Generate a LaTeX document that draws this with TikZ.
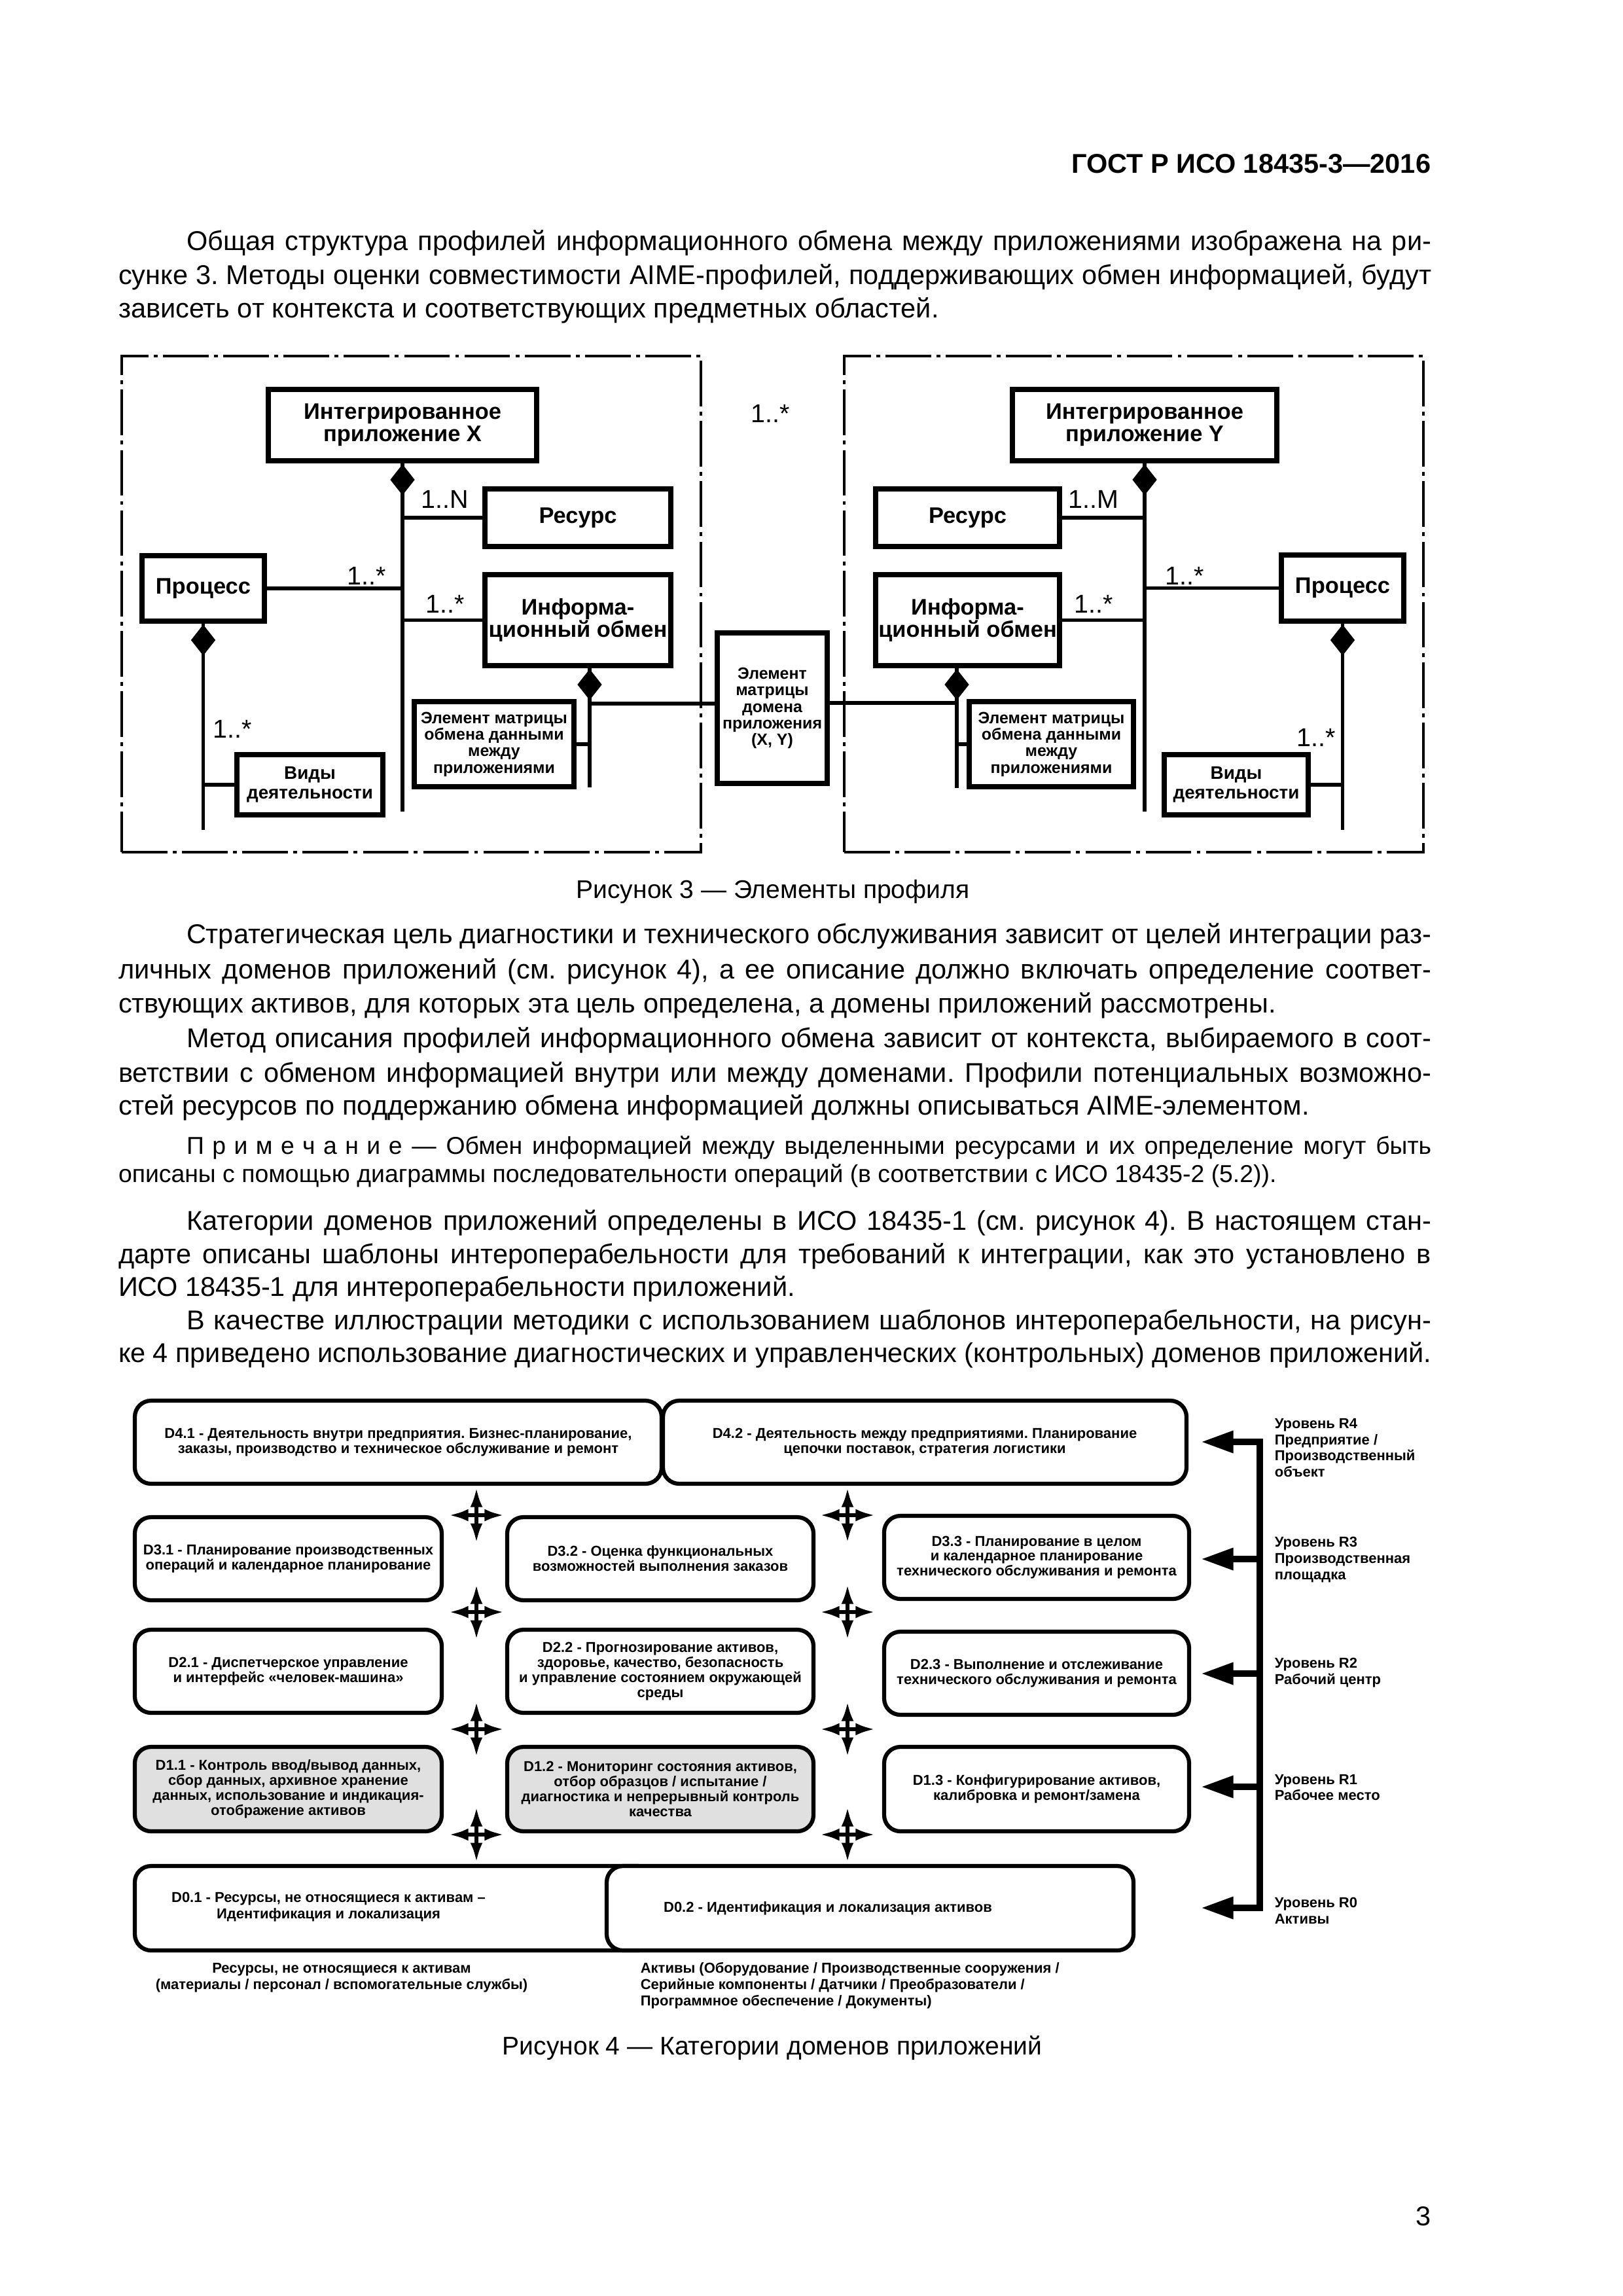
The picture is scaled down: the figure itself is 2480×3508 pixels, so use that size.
\documentclass[tikz,border=0pt]{standalone}
\usepackage{fontspec}
\setmainfont{Liberation Sans}
\usetikzlibrary{arrows.meta,shapes.geometric}
\newlength\pxl
\setlength\pxl{0.0846774mm}
\newcommand\primword{П\kern3pt р\kern3pt и\kern3pt м\kern3pt е\kern3pt ч\kern3pt а\kern3pt н\kern3pt и\kern3pt е}
\frenchspacing
\begin{document}
\begin{tikzpicture}[x=0.0846774mm,y=-0.0846774mm,
  bodyl/.style={anchor=base west, inner sep=0pt, outer sep=0pt, font=\fontsize{10}{12}\selectfont},
  notel/.style={anchor=base west, inner sep=0pt, outer sep=0pt, font=\fontsize{9}{11}\selectfont},
  capt/.style={anchor=base, inner sep=0pt, font=\fontsize{9.4}{11}\selectfont},
  umlbox/.style={draw, line width=2pt, inner sep=0pt, align=center, fill=white},
  bigtxt/.style={font=\fontsize{8.3}{8.2}\selectfont\bfseries},
  smtxt/.style={font=\fontsize{6}{6.1}\selectfont\bfseries},
  acttxt/.style={font=\fontsize{6.7}{7.2}\selectfont\bfseries},
  multlab/.style={inner sep=0pt, font=\fontsize{9.5}{11}\selectfont},
  conn/.style={line width=1.3pt},
  dia/.style={diamond, fill=black, draw=none, inner sep=0pt, minimum width=38\pxl, minimum height=48\pxl, anchor=north},
  dframe/.style={draw, line width=1.1pt, inner sep=0pt, dash pattern=on 5.9mm off 0.7mm on 0.5mm off 0.7mm},
  dbox/.style={draw, line width=1.5pt, rounded corners=2.1mm, fill=white, inner sep=0pt, align=center, font=\fontsize{5.3}{5.5}\selectfont\bfseries},
  dgray/.style={dbox, fill=black!12},
  lvltxt/.style={inner sep=0pt, align=left, font=\fontsize{5.3}{6}\selectfont\bfseries},
  xarr/.style={line width=1.3pt, {Latex[length=2.5mm,width=1.6mm]}-{Latex[length=2.5mm,width=1.6mm]}},
  lvl/.style={line width=2.4pt, line join=miter}
]
\fill[white] (0,0) rectangle (2480,3508);
\useasboundingbox (0,0) rectangle (2480,3508);

% ---------- header ----------
\node[anchor=base east, inner sep=0pt, font=\fontsize{10}{12}\selectfont\bfseries] (hdr) at (2187,264) {ГОСТ Р ИСО 18435-3—2016};

% ---------- paragraph 1 ----------
\node[bodyl] (p1a) at (285,382) {\makebox[1902\pxl][s]{Общая структура профилей информационного обмена между приложениями изображена на ри-}};
\node[bodyl] (p1b) at (181,434) {\makebox[2006\pxl][s]{сунке 3. Методы оценки совместимости AIME-профилей, поддерживающих обмен информацией, будут}};
\node[bodyl] (p1c) at (181,485) {зависеть от контекста и соответствующих предметных областей.};

% ---------- figure 3 ----------
\node[dframe, minimum width=885\pxl, minimum height=758\pxl] (frX) at (628.5,923) {};
\node[dframe, minimum width=885\pxl, minimum height=758\pxl] (frY) at (1732.5,923) {};

\node[umlbox,bigtxt,minimum width=410\pxl,minimum height=109\pxl] (intX) at (615,649.5) {Интегрированное\\приложение X};
\node[umlbox,bigtxt,minimum width=284\pxl,minimum height=88\pxl] (resX) at (883,791) {Ресурс};
\node[umlbox,bigtxt,minimum width=187\pxl,minimum height=100\pxl] (procX) at (310.5,899) {Процесс};
\node[umlbox,bigtxt,minimum width=284\pxl,minimum height=139\pxl] (infoX) at (883,947.5) {Информа-\\ционный обмен};
\node[umlbox,acttxt,minimum width=223\pxl,minimum height=92\pxl] (actX) at (473.5,1199) {Виды\\деятельности};
\node[umlbox,smtxt,minimum width=244\pxl,minimum height=130\pxl] (elemX) at (755,1137) {Элемент матрицы\\обмена данными\\между\\приложениями};

\node[umlbox,smtxt,minimum width=168\pxl,minimum height=230\pxl] (mid) at (1180,1082) {Элемент\\матрицы\\домена\\приложения\\(X, Y)};

\node[umlbox,bigtxt,minimum width=404\pxl,minimum height=109\pxl] (intY) at (1749,649.5) {Интегрированное\\приложение Y};
\node[umlbox,bigtxt,minimum width=281\pxl,minimum height=88\pxl] (resY) at (1478.5,791) {Ресурс};
\node[umlbox,bigtxt,minimum width=187\pxl,minimum height=101\pxl] (procY) at (2051.5,898.5) {Процесс};
\node[umlbox,bigtxt,minimum width=281\pxl,minimum height=139\pxl] (infoY) at (1478.5,947.5) {Информа-\\ционный обмен};
\node[umlbox,acttxt,minimum width=220\pxl,minimum height=92\pxl] (actY) at (1889,1199) {Виды\\деятельности};
\node[umlbox,smtxt,minimum width=251\pxl,minimum height=130\pxl] (elemY) at (1606.5,1137) {Элемент матрицы\\обмена данными\\между\\приложениями};

% spines
\coordinate (spX) at (615,1240);
\coordinate (spY) at (1749,1240);
\coordinate (spPX) at (310.5,1268);
\coordinate (spPY) at (2051.5,1268);
\coordinate (spIX) at (901,1203);
\coordinate (spIY) at (1462,1204);
\coordinate (jX) at (901,1075);
\coordinate (jY) at (1462,1074);

\draw[conn] (intX.south) -- (spX);
\draw[conn] (intY.south) -- (spY);
\draw[conn] (resX.west) -- (resX.west -| spX);
\draw[conn] (procX.east) -- (procX.east -| spX);
\draw[conn] (infoX.west) -- (infoX.west -| spX);
\draw[conn] (resY.east) -- (resY.east -| spY);
\draw[conn] (procY.west) -- (procY.west -| spY);
\draw[conn] (infoY.east) -- (infoY.east -| spY);

\draw[conn] (procX.south) -- (spPX);
\draw[conn] (actX.west) -- (actX.west -| spPX);
\draw[conn] (procY.south) -- (spPY);
\draw[conn] (actY.east) -- (actY.east -| spPY);

\draw[conn] ([xshift=18\pxl]infoX.south) -- (spIX);
\draw[conn] (elemX.east) -- (elemX.east -| spIX);
\draw[conn] (jX) -- (jX -| mid.west);
\draw[conn] ([xshift=-16.5\pxl]infoY.south) -- (spIY);
\draw[conn] (elemY.west) -- (elemY.west -| spIY);
\draw[conn] (jY) -- (jY -| mid.east);

\node[dia] (dIntX) at (intX.south) {};
\node[dia] (dIntY) at (intY.south) {};
\node[dia] (dProcX) at (procX.south) {};
\node[dia] (dProcY) at (procY.south) {};
\node[dia] (dInfoX) at ([xshift=18\pxl]infoX.south) {};
\node[dia] (dInfoY) at ([xshift=-16.5\pxl]infoY.south) {};

\node[multlab] (mN) at (680,763) {1..N};
\node[multlab] (mPX) at (560,880) {1..*};
\node[multlab] (mIX) at (680,923) {1..*};
\node[multlab] (mAX) at (355,1114) {1..*};
\node[multlab] (mM) at (1671,763) {1..M};
\node[multlab] (mPY) at (1810,880) {1..*};
\node[multlab] (mIY) at (1671,923) {1..*};
\node[multlab] (mAY) at (2011,1127) {1..*};
\node[multlab] (mXY) at (1177,632) {1..*};

\node[capt] (cap3) at (1181,1372) {Рисунок 3 — Элементы профиля};

% ---------- paragraphs 2,3 ----------
\node[bodyl] (p2a) at (285,1441) {\makebox[1902\pxl][s]{Стратегическая цель диагностики и технического обслуживания зависит от целей интеграции раз-}};
\node[bodyl] (p2b) at (181,1495) {\makebox[2006\pxl][s]{личных доменов приложений (см. рисунок 4), а ее описание должно включать определение соответ-}};
\node[bodyl] (p2c) at (181,1547) {ствующих активов, для которых эта цель определена, а домены приложений рассмотрены.};
\node[bodyl] (p3a) at (285,1600) {\makebox[1902\pxl][s]{Метод описания профилей информационного обмена зависит от контекста, выбираемого в соот-}};
\node[bodyl] (p3b) at (181,1653) {\makebox[2006\pxl][s]{ветствии с обменом информацией внутри или между доменами. Профили потенциальных возможно-}};
\node[bodyl] (p3c) at (181,1703) {стей ресурсов по поддержанию обмена информацией должны описываться AIME-элементом.};

\node[notel] (n1) at (285,1763) {\makebox[1902\pxl][s]{\primword{} — Обмен информацией между выделенными ресурсами и их определение могут быть}};
\node[notel] (n2) at (181,1806) {описаны с помощью диаграммы последовательности операций (в соответствии с ИСО 18435-2 (5.2)).};

\node[bodyl] (p4a) at (285,1879) {\makebox[1902\pxl][s]{Категории доменов приложений определены в ИСО 18435-1 (см. рисунок 4). В настоящем стан-}};
\node[bodyl] (p4b) at (181,1930) {\makebox[2006\pxl][s]{дарте описаны шаблоны интероперабельности для требований к интеграции, как это установлено в}};
\node[bodyl] (p4c) at (181,1980) {ИСО 18435-1 для интероперабельности приложений.};
\node[bodyl] (p5a) at (285,2031) {\makebox[1902\pxl][s]{В качестве иллюстрации методики с использованием шаблонов интероперабельности, на рисун-}};
\node[bodyl] (p5b) at (181,2081) {\makebox[2006\pxl][s]{ке 4 приведено использование диагностических и управленческих (контрольных) доменов приложений.}};

% ---------- figure 4 ----------
\node[dbox,minimum width=805\pxl,minimum height=127\pxl] (d41) at (608.5,2203.5) {D4.1 - Деятельность внутри предприятия. Бизнес-планирование,\\заказы, производство и техническое обслуживание и ремонт};
\node[dbox,minimum width=800\pxl,minimum height=127\pxl] (d42) at (1413,2203.5) {D4.2 - Деятельность между предприятиями. Планирование\\цепочки поставок, стратегия логистики};
\node[dbox,minimum width=469\pxl,minimum height=127\pxl] (d31) at (440.5,2381.5) {D3.1 - Планирование производственных\\операций и календарное планирование};
\node[dbox,minimum width=468\pxl,minimum height=127\pxl] (d32) at (1009,2381.5) {D3.2 - Оценка функциональных\\возможностей выполнения заказов};
\node[dbox,minimum width=466\pxl,minimum height=127\pxl] (d33) at (1584,2379.5) {D3.3 - Планирование в целом\\и календарное планирование\\технического обслуживания и ремонта};
\node[dbox,minimum width=469\pxl,minimum height=127\pxl] (d21) at (440.5,2553.5) {D2.1 - Диспетчерское управление\\и интерфейс «человек-машина»};
\node[dbox,minimum width=468\pxl,minimum height=127\pxl] (d22) at (1009,2553.5) {D2.2 - Прогнозирование активов,\\здоровье, качество, безопасность\\и управление состоянием окружающей\\среды};
\node[dbox,minimum width=466\pxl,minimum height=127\pxl] (d23) at (1584,2556.5) {D2.3 - Выполнение и отслеживание\\технического обслуживания и ремонта};
\node[dgray,minimum width=469\pxl,minimum height=129\pxl] (d11) at (440.5,2733.5) {D1.1 - Контроль ввод/вывод данных,\\сбор данных, архивное хранение\\данных, использование и индикация-\\отображение активов};
\node[dgray,minimum width=468\pxl,minimum height=129\pxl] (d12) at (1009,2733.5) {D1.2 - Мониторинг состояния активов,\\отбор образцов / испытание /\\диагностика и непрерывный контроль\\качества};
\node[dbox,minimum width=466\pxl,minimum height=129\pxl] (d13) at (1584,2733.5) {D1.3 - Конфигурирование активов,\\калибровка и ремонт/замена};
\node[dbox,minimum width=794\pxl,minimum height=129\pxl] (d01) at (603,2915.5) {};
\node[dbox,minimum width=805\pxl,minimum height=129\pxl] (d02) at (1329.5,2915.5) {};
\node[lvltxt, align=center] (d01t) at (502,2914) {D0.1 - Ресурсы, не относящиеся к активам –\\Идентификация и локализация};
\node[lvltxt, align=center] (d02t) at (1265,2916) {D0.2 - Идентификация и локализация активов};

% cross arrows
\foreach \n/\x/\y in {L1/728/2315, L2/728/2463, L3/728/2642, L4/728/2803, R1/1295/2315, R2/1295/2463, R3/1295/2642, R4/1295/2803}{
  \coordinate (c\n) at (\x,\y);
  \draw[xarr] ([yshift=42\pxl]c\n) -- ([yshift=-42\pxl]c\n);
  \draw[xarr] ([xshift=-42\pxl]c\n) -- ([xshift=42\pxl]c\n);
}

% level arrows
\coordinate (s4) at (1925,2203);
\coordinate (s3) at (1925,2382);
\coordinate (s2) at (1925,2557);
\coordinate (s1) at (1925,2730);
\coordinate (s0) at (1925,2915);
\coordinate (t4) at (1835,2203);
\coordinate (t3) at (1835,2382);
\coordinate (t2) at (1835,2557);
\coordinate (t1) at (1835,2730);
\coordinate (t0) at (1835,2915);
\draw[lvl, {Triangle[length=4.2mm,width=2.7mm]}-{Triangle[length=4.2mm,width=2.7mm]}] (t4) -- (s4) -- (s0) -- (t0);
\draw[lvl, -{Triangle[length=4.2mm,width=2.7mm]}] (s3) -- (t3);
\draw[lvl, -{Triangle[length=4.2mm,width=2.7mm]}] (s2) -- (t2);
\draw[lvl, -{Triangle[length=4.2mm,width=2.7mm]}] (s1) -- (t1);

\node[lvltxt, anchor=west] (l4) at (1947,2212) {Уровень R4\\Предприятие /\\Производственный\\объект};
\node[lvltxt, anchor=west] (l3) at (1947,2383) {Уровень R3\\Производственная\\площадка};
\node[lvltxt, anchor=west] (l2) at (1947,2556) {Уровень R2\\Рабочий центр};
\node[lvltxt, anchor=west] (l1) at (1947,2731) {Уровень R1\\Рабочее место};
\node[lvltxt, anchor=west] (l0) at (1947,2919) {Уровень R0\\Активы};

\node[lvltxt, align=center] (bl) at (522,3022) {Ресурсы, не относящиеся к активам\\(материалы / персонал / вспомогательные службы)};
\node[lvltxt, anchor=west] (br) at (978,3034) {Активы (Оборудование / Производственные сооружения /\\Серийные компоненты / Датчики / Преобразователи /\\Программное обеспечение / Документы)};

\node[capt] (cap4) at (1180,3139) {Рисунок 4 — Категории доменов приложений};

\node[anchor=base east, inner sep=0pt, font=\fontsize{10}{12}\selectfont] (pg) at (2187,3400) {3};
\end{tikzpicture}
\end{document}
